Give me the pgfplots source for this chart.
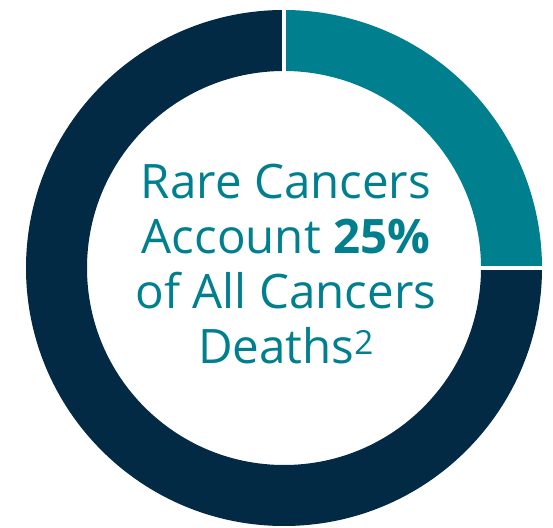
\documentclass[border=0pt]{standalone}
\usepackage{pgfplots}
\usepackage{pgfplotstable}
\usepackage{fontspec}
\setmainfont{Open Sans}
\pgfplotsset{compat=1.18}
\definecolor{rcteal}{HTML}{007F8F}
\definecolor{rcnavy}{HTML}{032A44}
\pgfplotstableread{
label value
Rare 25
Other 75
}\datatable
\begin{document}
\begin{tikzpicture}
\pgfplotstablegetelem{0}{value}\of\datatable
\let\va\pgfplotsretval
\pgfmathsetmacro\aend{90-3.6*\va}
\begin{axis}[
  scale only axis, width=553pt, height=525pt,
  xmin=0, xmax=553, ymin=0, ymax=525,
  hide axis, clip=false]
\path (axis cs:0,0) rectangle (axis cs:553,525);
\coordinate (c) at (axis cs:284,259);
% rare cancers segment
\fill[rcteal] ([shift={(90:258)}]c) arc[start angle=90,end angle=\aend,radius=258]
  -- ([shift={(\aend:197)}]c) arc[start angle=\aend,end angle=90,radius=197] -- cycle;
% remaining segment
\fill[rcnavy] ([shift={(\aend:258)}]c) arc[start angle=\aend,end angle=-270,radius=258]
  -- ([shift={(-270:197)}]c) arc[start angle=-270,end angle=\aend,radius=197] -- cycle;
\draw[white, line width=4pt] ([shift={(90:190)}]c) -- ([shift={(90:266)}]c);
\draw[white, line width=4pt] ([shift={(\aend:190)}]c) -- ([shift={(\aend:266)}]c);
\begin{scope}[every node/.style={anchor=base, text=rcteal, font=\fontsize{47.5}{55}\selectfont, inner sep=0pt}]
\node at (axis cs:286,328) {Rare Cancers};
\node at (axis cs:286,273) {Account \textbf{25\%}};
\node at (axis cs:286,218) {of All Cancers};
\node at (axis cs:286,163) {Deaths\textsuperscript{2}};
\end{scope}
\end{axis}
\end{tikzpicture}
\end{document}
